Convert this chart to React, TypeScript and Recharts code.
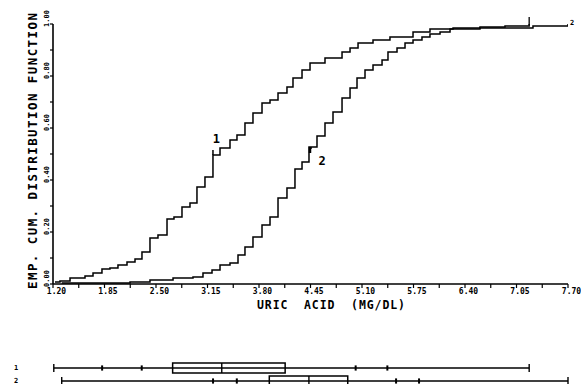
import React from 'react';
import {
  LineChart,
  Line,
  XAxis,
  YAxis,
  ReferenceDot,
  ComposedChart,
  ReferenceLine,
  ReferenceArea,
} from 'recharts';

const FONT = '"DejaVu Sans Mono", "Liberation Mono", monospace';

// Axis ticks
const xTickValues = [1.2, 1.85, 2.5, 3.15, 3.8, 4.45, 5.1, 5.75, 6.4, 7.05, 7.7];
const xTickLabels = ['1.20', '1.85', '2.50', '3.15', '3.80', '4.45', '5.10', '5.75', '6.40', '7.05', '7.70'];
const xMinorTicks = [1.525, 2.175, 2.825, 3.475, 4.125, 4.775, 5.425, 6.075, 6.725, 7.375];
const yTickValues = [0, 0.2, 0.4, 0.6, 0.8, 1.0];
const yTickLabels = ['0.00', '0.20', '0.40', '0.60', '0.80', '1.00'];
const yMinorTicks = [0.1, 0.3, 0.5, 0.7, 0.9];

// Group 1 empirical CDF (uric acid mg/dl, cumulative fraction)
const group1Uric = [1.225, 1.288, 1.415, 1.604, 1.705, 1.818, 1.919, 2.02, 2.134, 2.235, 2.323, 2.424, 2.525, 2.639, 2.727, 2.828, 2.929, 3.017, 3.118, 3.219, 3.308, 3.434, 3.522, 3.623, 3.724, 3.838, 3.939, 4.04, 4.153, 4.229, 4.343, 4.444, 4.633, 4.848, 4.949, 5.05, 5.239, 5.453, 5.744, 5.958, 6.249, 6.589, 6.905, 7.21];
const group1Ecdf = [0.008, 0.012, 0.023, 0.031, 0.042, 0.058, 0.062, 0.073, 0.085, 0.096, 0.123, 0.177, 0.188, 0.25, 0.258, 0.296, 0.312, 0.373, 0.412, 0.496, 0.523, 0.554, 0.573, 0.619, 0.658, 0.696, 0.708, 0.735, 0.758, 0.792, 0.823, 0.85, 0.869, 0.892, 0.908, 0.927, 0.938, 0.95, 0.969, 0.981, 0.985, 0.988, 0.992, 1.0];

// Group 2 empirical CDF
const group2Uric = [1.31, 2.172, 2.424, 2.715, 2.967, 3.093, 3.207, 3.308, 3.434, 3.535, 3.623, 3.724, 3.838, 3.939, 4.04, 4.153, 4.254, 4.343, 4.431, 4.532, 4.633, 4.734, 4.848, 4.949, 5.037, 5.138, 5.239, 5.353, 5.428, 5.542, 5.643, 5.744, 5.857, 5.958, 6.085, 6.211, 6.589, 7.258, 7.7];
const group2Ecdf = [0.004, 0.008, 0.015, 0.023, 0.027, 0.042, 0.054, 0.073, 0.081, 0.112, 0.142, 0.181, 0.227, 0.258, 0.331, 0.369, 0.442, 0.469, 0.527, 0.569, 0.619, 0.662, 0.715, 0.754, 0.792, 0.823, 0.842, 0.862, 0.892, 0.908, 0.927, 0.938, 0.95, 0.962, 0.969, 0.981, 0.985, 0.992, 1.0];

// Median markers on curves
const medianUric = [3.219, 4.431];
const medianEcdf = [0.496, 0.527];

// Box plot statistics (group 1, group 2)
const groupNames = ['1', '2'];
const boxMin = [1.21, 1.31];
const boxP05 = [1.82, 3.22];
const boxP10 = [2.32, 3.52];
const boxQ1 = [2.71, 3.93];
const boxMedian = [3.33, 4.43];
const boxQ3 = [4.13, 4.92];
const boxP90 = [5.02, 5.53];
const boxP95 = [5.42, 5.82];
const boxMax = [7.21, 7.7];

const series1 = group1Uric.map((x, i) => ({ x, y: group1Ecdf[i] }));
const series2 = group2Uric.map((x, i) => ({ x, y: group2Ecdf[i] }));

const allXTicks = [...xTickValues, ...xMinorTicks].sort((a, b) => a - b);
const allYTicks = [...yTickValues, ...yMinorTicks].sort((a, b) => a - b);

const near = (a: number, b: number) => Math.abs(a - b) < 1e-6;

const XTick = (props: any) => {
  const { x, y, payload } = props;
  const idx = xTickValues.findIndex((v) => near(v, payload.value));
  if (idx < 0) return null;
  return (
    <text x={x + 3.5} y={y + 4} textAnchor="middle" fontFamily={FONT} fontWeight="bold" fontSize={8} fill="#000">
      {xTickLabels[idx]}
    </text>
  );
};

const YTick = (props: any) => {
  const { x, y, payload } = props;
  const idx = yTickValues.findIndex((v) => near(v, payload.value));
  if (idx < 0) return null;
  return (
    <text
      transform={`translate(${x + 1},${y + 3}) rotate(-90)`}
      textAnchor="start"
      fontFamily={FONT}
      fontWeight="bold"
      fontSize={7}
      fill="#000"
    >
      {yTickLabels[idx]}
    </text>
  );
};

const RowTick = (props: any) => {
  const { y, payload } = props;
  const idx = payload.value - 1;
  return (
    <text x={16} y={y + 2} textAnchor="middle" fontFamily={FONT} fontWeight="bold" fontSize={7} fill="#000">
      {groupNames[idx]}
    </text>
  );
};

const Median1Shape = (p: any) => (
  <g>
    <line x1={p.cx} y1={p.cy} x2={p.cx} y2={p.cy - 5} stroke="#000" strokeWidth={1.5} />
    <text x={p.cx + 3.5} y={p.cy - 12} textAnchor="middle" fontFamily={FONT} fontWeight="bold" fontSize={12} fill="#000">
      1
    </text>
  </g>
);

const Median2Shape = (p: any) => (
  <g>
    <line x1={p.cx + 1} y1={p.cy} x2={p.cx + 1} y2={p.cy + 6} stroke="#000" strokeWidth={2.5} />
    <line x1={p.cx} y1={p.cy + 1} x2={p.cx + 3} y2={p.cy + 1} stroke="#000" strokeWidth={1.5} />
    <text x={p.cx + 13} y={p.cy + 18} textAnchor="middle" fontFamily={FONT} fontWeight="bold" fontSize={12} fill="#000">
      2
    </text>
  </g>
);

const End1Shape = (p: any) => (
  <line x1={p.cx} y1={p.cy + 1} x2={p.cx} y2={p.cy - 7} stroke="#000" strokeWidth={1.3} />
);

const End2Shape = (p: any) => (
  <text x={p.cx + 2} y={p.cy + 1} fontFamily={FONT} fontWeight="bold" fontSize={7} fill="#000">
    2
  </text>
);

const axisStyle = { stroke: '#000', strokeWidth: 1.6 };
const tickStyle = { stroke: '#000', strokeWidth: 1.2 };

export default function App() {
  return (
    <div style={{ position: 'fixed', left: 0, top: 0, width: 581, height: 384, background: '#fff', overflow: 'hidden' }}>
      <div style={{ position: 'absolute', left: 0, top: 0 }}>
        <LineChart width={581} height={320} margin={{ top: 24, right: 13, bottom: 0, left: 0 }}>
          <XAxis
            type="number"
            dataKey="x"
            domain={[1.2, 7.7]}
            ticks={allXTicks}
            interval={0}
            height={36}
            tickSize={4}
            axisLine={axisStyle}
            tickLine={tickStyle}
            tick={<XTick />}
            allowDataOverflow
          />
          <YAxis
            type="number"
            dataKey="y"
            domain={[0, 1]}
            ticks={allYTicks}
            interval={0}
            width={53}
            tickSize={3}
            axisLine={axisStyle}
            tickLine={tickStyle}
            tick={<YTick />}
            allowDataOverflow
          />
          <Line data={series1} dataKey="y" type="stepAfter" stroke="#000" strokeWidth={1.5} dot={false} isAnimationActive={false} />
          <Line data={series2} dataKey="y" type="stepAfter" stroke="#000" strokeWidth={1.5} dot={false} isAnimationActive={false} />
          <ReferenceDot x={medianUric[0]} y={medianEcdf[0]} r={1} shape={<Median1Shape />} />
          <ReferenceDot x={medianUric[1]} y={medianEcdf[1]} r={1} shape={<Median2Shape />} />
          <ReferenceDot x={group1Uric[group1Uric.length - 1]} y={group1Ecdf[group1Ecdf.length - 1]} r={1} shape={<End1Shape />} />
          <ReferenceDot x={group2Uric[group2Uric.length - 1]} y={group2Ecdf[group2Ecdf.length - 1]} r={1} shape={<End2Shape />} />
        </LineChart>
      </div>

      <div style={{ position: 'absolute', left: 0, top: 355 }}>
        <ComposedChart width={581} height={39} margin={{ top: 0, right: 13, bottom: 0, left: 0 }} data={[{ x: 1.2, y: 0 }]}>
          <XAxis type="number" dataKey="x" domain={[1.2, 7.7]} hide allowDataOverflow />
          <YAxis
            type="number"
            dataKey="y"
            domain={[0, 3]}
            reversed
            ticks={[1, 2]}
            interval={0}
            width={53}
            axisLine={false}
            tickLine={false}
            tick={<RowTick />}
            allowDataOverflow
          />
          {groupNames.map((_, i) => {
            const r = i + 1;
            const s = { stroke: '#000', strokeWidth: 1.4 };
            return (
              <React.Fragment key={i}>
                <ReferenceLine segment={[{ x: boxMin[i], y: r }, { x: boxMax[i], y: r }]} {...s} ifOverflow="visible" />
                <ReferenceLine segment={[{ x: boxMin[i], y: r - 0.3 }, { x: boxMin[i], y: r + 0.3 }]} {...s} ifOverflow="visible" />
                <ReferenceLine segment={[{ x: boxMax[i], y: r - 0.3 }, { x: boxMax[i], y: r + 0.3 }]} {...s} ifOverflow="visible" />
                {[boxP05[i], boxP10[i], boxP90[i], boxP95[i]].map((v, k) => (
                  <ReferenceLine
                    key={k}
                    segment={[{ x: v, y: r - 0.2 }, { x: v, y: r + 0.2 }]}
                    stroke="#000"
                    strokeWidth={2}
                    ifOverflow="visible"
                  />
                ))}
                <ReferenceArea
                  x1={boxQ1[i]}
                  x2={boxQ3[i]}
                  y1={r - 0.38}
                  y2={r + 0.38}
                  fill="#fff"
                  fillOpacity={1}
                  stroke="#000"
                  strokeWidth={1.5}
                  ifOverflow="visible"
                />
                <ReferenceLine segment={[{ x: boxMedian[i], y: r - 0.38 }, { x: boxMedian[i], y: r + 0.38 }]} {...s} ifOverflow="visible" />
              </React.Fragment>
            );
          })}
        </ComposedChart>
      </div>

      <svg width={581} height={384} style={{ position: 'absolute', left: 0, top: 0, pointerEvents: 'none' }}>
        <text
          transform="translate(37,151) rotate(-90)"
          textAnchor="middle"
          fontFamily={FONT}
          fontWeight="bold"
          fontSize={12.5}
          textLength={276}
          lengthAdjust="spacing"
          fill="#000"
        >
          EMP. CUM. DISTRIBUTION FUNCTION
        </text>
        <text
          x={331}
          y={309}
          textAnchor="middle"
          fontFamily={FONT}
          fontWeight="bold"
          fontSize={11.5}
          textLength={148}
          lengthAdjust="spacing"
          fill="#000"
          style={{ whiteSpace: 'pre' }}
        >
          URIC  ACID  (MG/DL)
        </text>
      </svg>
    </div>
  );
}
